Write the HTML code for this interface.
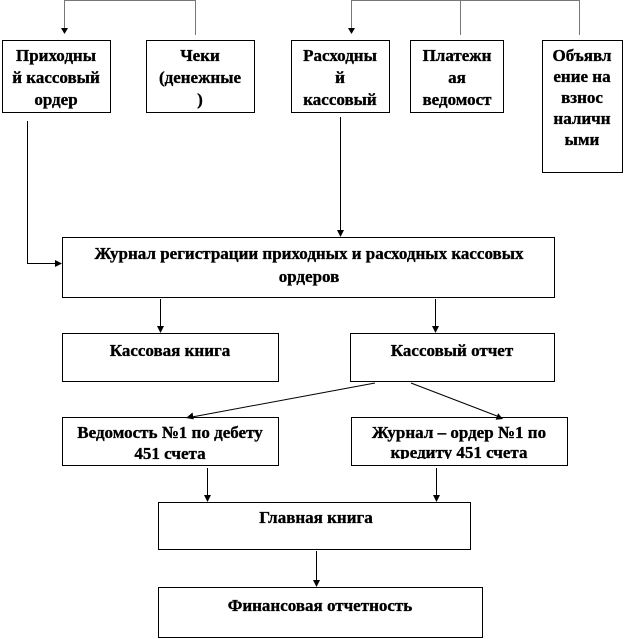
<!DOCTYPE html>
<html>
<head>
<meta charset="utf-8">
<style>
html,body{margin:0;padding:0;background:#fff;}
svg{display:block;}
text{font-family:"Liberation Serif","Noto Serif CJK SC",serif;font-weight:bold;font-size:17px;fill:#000;stroke:#000;stroke-width:0.35;text-anchor:middle;}
</style>
</head>
<body>
<svg width="630" height="639" viewBox="0 0 630 639" xmlns="http://www.w3.org/2000/svg">
<defs>
<clipPath id="zoclip"><rect x="352" y="418" width="214" height="41"/></clipPath>
</defs>
<g fill="#fff" stroke="#000" stroke-width="1">
<rect x="2.5" y="40.5" width="108" height="72"/>
<rect x="146.5" y="40.5" width="108" height="72"/>
<rect x="291.5" y="40.5" width="98" height="72"/>
<rect x="410.5" y="40.5" width="93" height="72"/>
<rect x="542.5" y="40.5" width="80" height="132"/>
<rect x="62.5" y="237.5" width="492" height="60"/>
<rect x="62.5" y="333.5" width="216" height="48"/>
<rect x="350.5" y="333.5" width="204" height="48"/>
<rect x="62.5" y="417.5" width="216" height="48"/>
<rect x="351.5" y="417.5" width="216" height="48"/>
<rect x="158.5" y="502.5" width="312" height="47"/>
<rect x="158.5" y="587.5" width="324" height="50"/>
</g>

<!-- top gray connectors -->
<g stroke="#777" stroke-width="1" fill="none">
<path d="M64.5 29 V0.5 H195.5 V35"/>
<path d="M351.5 29 V0.5 H579.5 V35"/>
<path d="M460.5 0.5 V35"/>
</g>
<g fill="#000">
<polygon points="61,28 68,28 64.5,34"/>
<polygon points="348,28 355,28 351.5,34"/>
</g>

<!-- black connectors -->
<g stroke="#000" stroke-width="1" fill="none">
<path d="M27.5 121 V263.5 H56"/>
<path d="M340.5 117 V231"/>
<path d="M160.5 299 V327"/>
<path d="M435.5 299 V327"/>
<path d="M207.5 468 V496"/>
<path d="M436.5 468 V496"/>
<path d="M316.5 551 V581"/>
<path d="M375 383 L192 417"/>
<path d="M411 383 L497 416"/>
</g>
<g fill="#000">
<polygon points="55,260 62,263.5 55,267"/>
<polygon points="337,230 344,230 340.5,237"/>
<polygon points="157,326 164,326 160.5,333"/>
<polygon points="432,326 439,326 435.5,333"/>
<polygon points="204,495 211,495 207.5,502"/>
<polygon points="433,495 440,495 436.5,502"/>
<polygon points="313,580 320,580 316.5,587"/>
<polygon points="186,418 192.5,412.5 193.8,419.4"/>
<polygon points="503,419 495.6,419.8 498.1,413.2"/>
</g>

<!-- texts -->
<text x="56" y="61">Приходны</text>
<text x="56" y="83">й кассовый</text>
<text x="56" y="105">ордер</text>

<text x="200" y="61">Чеки</text>
<text x="200" y="83">(денежные</text>
<text x="200" y="105">)</text>

<text x="340" y="61">Расходны</text>
<text x="340" y="83">й</text>
<text x="340" y="105">кассовый</text>

<text x="457" y="61">Платежн</text>
<text x="457" y="83">ая</text>
<text x="457" y="105">ведомост</text>

<text x="582" y="61">Объявл</text>
<text x="582" y="82">ение на</text>
<text x="582" y="103">взнос</text>
<text x="582" y="124">наличн</text>
<text x="582" y="145">ыми</text>

<text x="309" y="259">Журнал регистрации приходных и расходных кассовых</text>
<text x="309" y="282">ордеров</text>

<text x="170" y="356">Кассовая книга</text>
<text x="452" y="356">Кассовый отчет</text>

<text x="170" y="438">Ведомость №1 по дебету</text>
<text x="170" y="459">451 счета</text>

<text x="459" y="438">Журнал – ордер №1 по</text>
<text x="459" y="458" clip-path="url(#zoclip)">кредиту 451 счета</text>

<text x="316" y="523">Главная книга</text>
<text x="320" y="611">Финансовая отчетность</text>
</svg>
</body>
</html>
